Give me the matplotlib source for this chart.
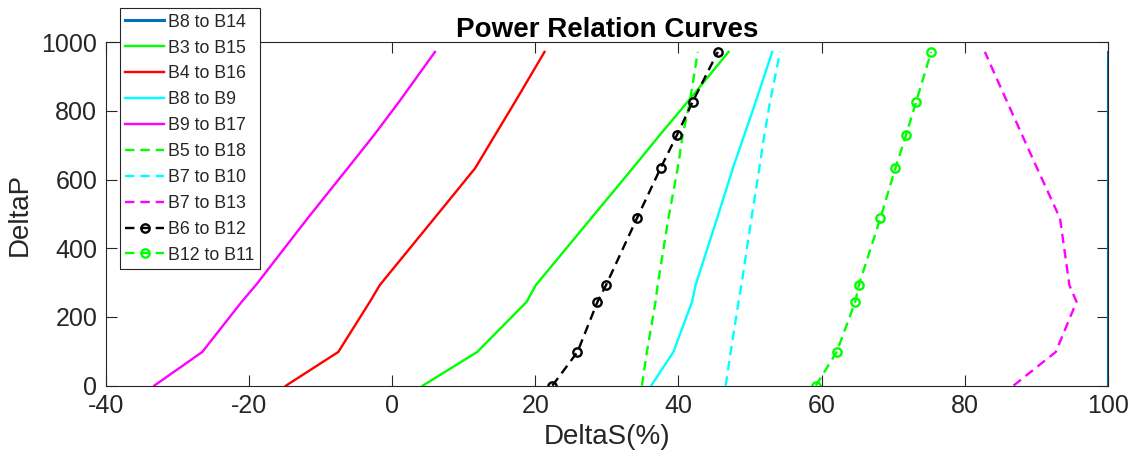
import numpy as np
import matplotlib
matplotlib.use("Agg")
import matplotlib.pyplot as plt

plt.rcParams.update({
    "font.family": ["Liberation Sans", "DejaVu Sans"],
    "axes.unicode_minus": False,
    "axes.edgecolor": "#262626",
    "xtick.color": "#262626",
    "ytick.color": "#262626",
    "text.color": "#262626",
    "axes.labelcolor": "#262626",
})

# load levels (DeltaP) shared by all curves
dP = [0, 98, 244, 293, 487, 633, 730, 827, 972]

# DeltaS (%) per branch
b8_b14 = [100, 100, 100, 100, 100, 100, 100, 100, 100]
b3_b15 = [4.3, 11.9, 18.8, 20.1, 27.8, 33.6, 37.4, 41.3, 47.0]
b4_b16 = [-14.8, -7.5, -3.1, -1.7, 5.9, 11.6, 14.4, 17.2, 21.3]
b8_b9 = [36.2, 39.3, 41.9, 42.4, 45.4, 47.6, 49.2, 50.8, 53.1]
b9_b17 = [-33.2, -26.5, -21.0, -19.0, -11.8, -6.2, -2.5, 1.0, 6.0]
b5_b18 = [34.9, 35.6, 36.8, 37.1, 38.6, 39.9, 40.6, 41.6, 42.7]
b7_b10 = [46.6, 47.3, 48.4, 48.8, 50.2, 51.3, 52.0, 52.8, 54.2]
b7_b13 = [86.8, 92.7, 95.6, 94.6, 93.3, 90.1, 88.0, 85.9, 82.8]
b6_b12 = [22.4, 25.9, 28.7, 29.9, 34.2, 37.5, 39.8, 42.0, 45.5]
b12_b11 = [59.2, 62.1, 64.7, 65.2, 68.2, 70.3, 71.8, 73.2, 75.3]

DASH = (0, (4, 2.5))
LW = 1.7

fig = plt.figure(figsize=(11.39, 4.69), dpi=100)
ax = fig.add_axes([0.0927, 0.1778, 0.8801, 0.7320])

ax.plot(b8_b14, dP, color="#0072BD", lw=2.2, label="B8 to B14")
ax.plot(b3_b15, dP, color="#00FF00", lw=LW, label="B3 to B15")
ax.plot(b4_b16, dP, color="#FF0000", lw=LW, label="B4 to B16")
ax.plot(b8_b9, dP, color="#00FFFF", lw=LW, label="B8 to B9")
ax.plot(b9_b17, dP, color="#FF00FF", lw=LW, label="B9 to B17")
ax.plot(b5_b18, dP, color="#00FF00", lw=LW, ls=DASH, label="B5 to B18")
ax.plot(b7_b10, dP, color="#00FFFF", lw=LW, ls=DASH, label="B7 to B10")
ax.plot(b7_b13, dP, color="#FF00FF", lw=LW, ls=DASH, label="B7 to B13")
ax.plot(b6_b12, dP, color="black", lw=LW, ls=DASH, marker="o", ms=6,
        mfc="none", mew=1.7, label="B6 to B12")
ax.plot(b12_b11, dP, color="#00FF00", lw=LW, ls=DASH, marker="o", ms=6,
        mfc="none", mew=1.7, label="B12 to B11")

ax.set_xlim(-40, 100)
ax.set_ylim(0, 1000)
ax.set_xticks(np.arange(-40, 101, 20))
ax.set_yticks(np.arange(0, 1001, 200))
ax.tick_params(direction="in", length=8, width=0.8, labelsize=18,
               top=True, right=True, pad=6)
for s in ax.spines.values():
    s.set_linewidth(0.8)

ax.set_xlabel("DeltaS(%)", fontsize=20, labelpad=4)
ax.set_ylabel("DeltaP", fontsize=20, labelpad=6)
ax.set_title("Power Relation Curves", fontsize=20, fontweight="bold",
             pad=4, color="black")

leg = ax.legend(loc="upper left", bbox_to_anchor=(0.0144, 1.099),
                fontsize=12.8, frameon=True, fancybox=False, framealpha=1,
                edgecolor="#262626", borderaxespad=0, handlelength=2.2,
                handletextpad=0.2, labelspacing=0.5, borderpad=0.3,
                numpoints=1)
leg.get_frame().set_linewidth(0.8)
leg.set_zorder(10)

fig.savefig("out.png", dpi=100)
